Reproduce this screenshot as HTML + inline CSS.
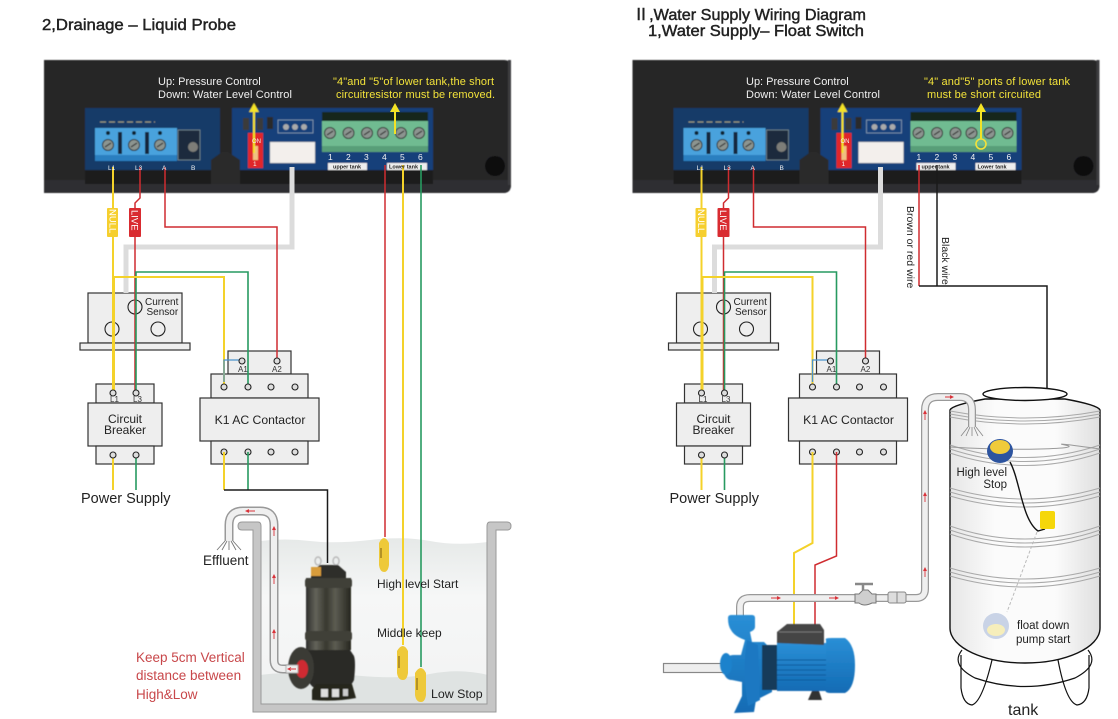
<!DOCTYPE html>
<html lang="en"><head><meta charset="utf-8"><title>Wiring Diagrams</title>
<style>
html,body{margin:0;padding:0;background:#fff;width:1118px;height:719px;overflow:hidden}
svg{display:block}
text{font-family:"Liberation Sans","DejaVu Sans",sans-serif;fill:#222}
.title{font-size:16px;stroke:#222;stroke-width:.45px}
.w{fill:#f1f1f1;font-size:11px}
.y{fill:#f2e23a;font-size:11px}
.s{font-size:8px;fill:#333}
.pn{font-size:8.5px;fill:#f2f2f2}
.tl{font-size:5.5px;fill:#222;font-weight:bold}
.wl{font-size:6.5px;fill:#f2f2f2}
.t{font-size:12px}
.b{font-size:12.2px}
.rd{font-size:13.5px;fill:#c8474a}
.box{fill:#eee;stroke:#333;stroke-width:1.2}
.term{fill:#ddd;stroke:#222;stroke-width:1.1}
.ye{stroke:#f4d22a;fill:none;stroke-width:2}
.re{stroke:#cf2c30;fill:none;stroke-width:1.5}
.gr{stroke:#279a60;fill:none;stroke-width:1.6}
.bk{stroke:#1a1a1a;fill:none;stroke-width:1.5}
.ring{stroke:#a9a9a9;fill:none;stroke-width:1}
.ar{stroke:#d9333a;fill:#d9333a;stroke-width:.9}
</style></head><body>
<svg xmlns="http://www.w3.org/2000/svg" width="1118" height="719" viewBox="0 0 1118 719">
<defs>
<filter id="soft" x="-5%" y="-5%" width="110%" height="110%"><feGaussianBlur stdDeviation=".45"/></filter>
<linearGradient id="tankg" x1="0" x2="1" y1="0" y2="0"><stop offset="0" stop-color="#e6e6e6"/><stop offset=".3" stop-color="#fbfbfb"/><stop offset=".7" stop-color="#fbfbfb"/><stop offset="1" stop-color="#dfdfdf"/></linearGradient>
<linearGradient id="water" x1="0" x2="0" y1="0" y2="1"><stop offset="0" stop-color="#e6e9e8"/><stop offset=".35" stop-color="#f6f7f7"/><stop offset=".8" stop-color="#f3f4f4"/><stop offset="1" stop-color="#f0f1f1"/></linearGradient>
<linearGradient id="pumpb" x1="0" x2="1" y1="0" y2="0"><stop offset="0" stop-color="#2f2f2c"/><stop offset=".22" stop-color="#63635a"/><stop offset=".45" stop-color="#38382f"/><stop offset=".65" stop-color="#5c5c52"/><stop offset="1" stop-color="#26261f"/></linearGradient>
<linearGradient id="blue" x1="0" x2="0" y1="0" y2="1"><stop offset="0" stop-color="#2a8fd6"/><stop offset="1" stop-color="#136bb4"/></linearGradient>
<g id="screw"><circle r="5.5" fill="#8c9490" stroke="#333" stroke-width="1"/><path d="M-3 2L3-2" stroke="#333" stroke-width="1.2"/></g>

<g id="panel">
<path d="M44 60H504Q511 60 511 67V185Q511 193 503 193H44Z" fill="#252528"/>
<path d="M44 180H511V185Q511 193 503 193H44Z" fill="#2e2e30"/>
<path d="M508 60h3v125h-3z" fill="#3d3d3f"/>
<rect x="85" y="170" width="126" height="14" fill="#1b1b1d"/><rect x="240" y="170" width="193" height="14" fill="#1b1b1d"/>
<rect x="85" y="108" width="135" height="62" fill="#123a68"/>
<rect x="232" y="108" width="201" height="62" fill="#12417a"/>
<path d="M211 184V160L222 152H228L240 160V184Z" fill="#2a2a2c"/>
<path d="M95 128H177V161H95Z" fill="#4aa2dd"/><rect x="95" y="155" width="82" height="6" fill="#2c7fc0"/>
<rect x="118" y="132" width="4" height="22" fill="#14263c"/><rect x="145" y="132" width="4" height="22" fill="#14263c"/>
<use href="#screw" x="108" y="145"/><use href="#screw" x="134" y="145"/><use href="#screw" x="160" y="145"/>
<circle cx="108" cy="133" r="2" fill="#123"/><circle cx="134" cy="133" r="2" fill="#123"/><circle cx="160" cy="133" r="2" fill="#123"/>
<rect x="178" y="130" width="22" height="30" fill="#1e2c3c" stroke="#9aa" stroke-width=".6"/><circle cx="193" cy="147" r="5" fill="#7d7d78"/>
<path d="M100 122H155" stroke="#9a9a80" stroke-width="1.2" stroke-dasharray="6 3"/>
<rect x="248" y="133" width="15" height="35" fill="#e0252b"/><rect x="253" y="146" width="5" height="14" fill="#f0c080"/>
<rect x="243" y="118" width="6" height="12" fill="#3a3a3a"/><rect x="257" y="118" width="6" height="12" fill="#3a3a3a"/><rect x="267" y="117" width="6" height="12" fill="#2a2a2a"/>
<rect x="278" y="120" width="35" height="13" fill="none" stroke="#9ab" stroke-width=".7"/>
<circle cx="286" cy="127" r="3" fill="#aaa"/><circle cx="295" cy="127" r="3" fill="#aaa"/><circle cx="304" cy="127" r="3" fill="#aaa"/>
<rect x="270" y="142" width="45" height="21" fill="#f3efec" stroke="#bbb" stroke-width=".5"/>
<rect x="322" y="112" width="106" height="10" fill="#14261c"/>
<rect x="322" y="121" width="106" height="31" fill="#6fbb91"/>
<rect x="322" y="146" width="106" height="6" fill="#589e78"/>
<use href="#screw" x="330" y="133"/><use href="#screw" x="348.500" y="133"/><use href="#screw" x="367" y="133"/><use href="#screw" x="383" y="133"/><use href="#screw" x="401" y="133"/><use href="#screw" x="419" y="133"/>
<rect x="328" y="163" width="39" height="7" fill="#eee"/><rect x="387" y="163" width="40" height="7" fill="#eee"/>
<circle cx="495" cy="166" r="10" fill="#0b0b0c"/>
<path d="M254 103L249 112H253V153H255V112H259Z" fill="#f4e225"/>
</g>

<g id="ctrl">
<rect class="box" x="88" y="293" width="94" height="50"/><rect class="box" x="80" y="343" width="110" height="7"/>
<rect class="box" x="96" y="384" width="58" height="19"/><rect class="box" x="88" y="403" width="74" height="43"/><rect class="box" x="96" y="446" width="58" height="18"/>
<rect class="box" x="228" y="351" width="63" height="23"/><rect class="box" x="211" y="374" width="97" height="24"/><rect class="box" x="200" y="398" width="119" height="43"/><rect class="box" x="211" y="441" width="97" height="23"/>
<path d="M292 167V247H126V293" fill="none" stroke="#dcdcdc" stroke-width="5"/>
<circle cx="135" cy="307" r="7" fill="none" stroke="#222" stroke-width="1.1"/><circle cx="112" cy="329" r="7" fill="none" stroke="#222" stroke-width="1.1"/><circle cx="158" cy="329" r="7" fill="none" stroke="#222" stroke-width="1.1"/>
<path class="ye" d="M113 167V393"/>
<path class="re" d="M140 167V198L135 203V393"/>
<path class="re" d="M165 167V227H277V359"/>
<path class="gr" d="M136 393V272H248V385"/>
<path class="ye" d="M114 393V277H224V385"/>
<path d="M224 382V360H242" fill="none" stroke="#4b93cc" stroke-width="1.3"/>
<rect x="107" y="208" width="11" height="29" rx="1" fill="#f6cf2e"/><rect x="129" y="208" width="12" height="29" rx="1" fill="#d92b30"/>
<path class="ye" d="M113 455V490"/><path class="gr" d="M136 455V490"/>
<g class="term"><circle cx="113" cy="393" r="3"/><circle cx="136" cy="393" r="3"/><circle cx="113" cy="455" r="3"/><circle cx="136" cy="455" r="3"/>
<circle cx="224" cy="387" r="3"/><circle cx="248" cy="387" r="3"/><circle cx="271" cy="387" r="3"/><circle cx="295" cy="387" r="3"/>
<circle cx="224" cy="452" r="3"/><circle cx="248" cy="452" r="3"/><circle cx="271" cy="452" r="3"/><circle cx="295" cy="452" r="3"/>
<circle cx="242" cy="361" r="3"/><circle cx="277" cy="361" r="3"/></g>
</g>
</defs>

<!-- titles -->
<text class="title" x="42" y="30" textLength="194" lengthAdjust="spacingAndGlyphs">2,Drainage – Liquid Probe</text>
<text class="title" x="633" y="20" textLength="233" lengthAdjust="spacingAndGlyphs" style="font-family:'Liberation Sans','Noto Sans CJK SC',sans-serif">Ⅱ,Water Supply Wiring Diagram</text>
<text class="title" x="648" y="36" textLength="216" lengthAdjust="spacingAndGlyphs">1,Water Supply– Float Switch</text>

<!-- LEFT water basin -->
<path d="M260 541Q285 538 310 541T370 540T430 541T488 542V705H260Z" fill="url(#water)"/>
<path d="M260 675Q300 670 350 675T430 674T488 675V705H260Z" fill="#dfe3e2"/>
<path d="M242 522H258Q261 522 261 526V704H487V526Q487 522 490 522H507Q511 522 511 526T507 530H496V712H253V530H242Q238 530 238 526T242 522Z" fill="#c6c6c6" stroke="#999" stroke-width="1"/>

<!-- LEFT pipe -->
<path d="M296 669H283Q274 669 274 660V525Q274 511 260 511H243Q229 511 229 525V541" fill="none" stroke="#999" stroke-width="9"/>
<path d="M296 669H283Q274 669 274 660V525Q274 511 260 511H243Q229 511 229 525V541" fill="none" stroke="#efefef" stroke-width="6"/>
<path d="M225 541L217 550M227 541L222 550M229 541V550M231 541L236 550M233 541L241 550" stroke="#777" stroke-width=".9"/>
<g class="ar"><path d="M274 536V528M272.500 530L274 527L275.500 530M274 584V576M272.500 578L274 575L275.500 578M274 639V631M272.500 633L274 630L275.500 633"/><path d="M255 511H247M249 509.500L246 511L249 512.500"/></g>

<!-- LEFT pump -->
<g filter="url(#soft)">
<path d="M318 565a3 4 0 1 1 .1 0M336 565a3 4 0 1 1 .1 0" fill="none" stroke="#bbb" stroke-width="1.4"/>
<path d="M311 572L320 565H338L346 572V578H311Z" fill="#2e2e2a"/>
<rect x="311" y="567" width="10" height="9" fill="#d89c3a"/>
<rect x="306" y="578" width="45" height="72" fill="url(#pumpb)"/>
<rect x="305" y="578" width="47" height="10" rx="3" fill="#3f3f39"/><rect x="305" y="631" width="47" height="10" rx="3" fill="#3f3f39"/>
<path d="M307 650H350L354 656Q356 662 354 680Q350 689 340 690H320Q308 688 306 672Z" fill="#2c2c28"/>
<path d="M312 690L316 684H352L356 698Q335 702 312 700Z" fill="#26261f"/>
<rect x="321" y="689" width="7" height="8" fill="#ddd"/><rect x="332" y="689" width="7" height="8" fill="#ddd"/><rect x="343" y="689" width="5" height="7" fill="#ccc"/>
<ellipse cx="301" cy="668" rx="13" ry="21" fill="#3a3a36"/>
<ellipse cx="302" cy="669" rx="6" ry="9" fill="#cf2a30"/>
<rect x="286" y="665" width="12" height="8" fill="#eee" stroke="#999" stroke-width=".8"/>
</g>
<path d="M296 669H289M291 667.500L288 669L291 670.500" stroke="#d9333a" stroke-width=".9" fill="none"/>

<!-- LEFT panel + wiring -->
<use href="#panel" filter="url(#soft)"/>
<use href="#ctrl"/>
<path class="ye" d="M224 452V490"/><path class="gr" d="M248 452V490"/>
<path class="bk" d="M224 490H327.500V563"/>
<path class="re" d="M385 165V537"/>
<path class="ye" d="M403 165V645"/>
<path class="gr" d="M421 165V667"/>
<path d="M379 543Q384 533 389 543V565Q388 572 384 572Q380 572 379 565Z" fill="#eec93a"/>
<path d="M397 651Q403 641 408 651V673Q407 680 403 680Q398 680 397 673Z" fill="#eec93a"/>
<path d="M415 673Q421 663 426 673V695Q425 702 421 702Q416 702 415 695Z" fill="#eec93a"/>
<path d="M381 548V558M399 656V668M417 678V690" stroke="#7a5c10" stroke-width="1"/>
<path d="M395 103L390 112H394V134H396V112H400Z" fill="#f4e225"/>

<!-- RIGHT panel + control -->
<use href="#panel" x="588.500" filter="url(#soft)"/>
<use href="#ctrl" x="588.500"/>
<circle cx="981" cy="144" r="5" fill="none" stroke="#f2e23a" stroke-width="1.6"/>
<path d="M981 103L976 112H980V139H982V112H986Z" fill="#f4e225"/>
<path class="ye" d="M812.500 452V543L794 553V626"/>
<path class="re" d="M836.500 452V556L815 565V626"/>
<path class="re" d="M919 165V286"/>
<path class="bk" d="M937 165V286"/>
<path class="bk" d="M919 286H1047V512"/>

<!-- RIGHT tank -->
<path d="M950 410Q952 405 985 399H1065Q1098 405 1100 410V628C1100 648 1065 663 1025 663C985 663 950 648 950 628Z" fill="url(#tankg)" stroke="#111" stroke-width="1.4"/>
<ellipse cx="1025" cy="394" rx="42" ry="6.500" fill="#fff" stroke="#111" stroke-width="1.4"/>
<g class="ring">
<path d="M950 411Q1025 425 1100 411M950 414Q1025 428 1100 414M950 417Q1025 431 1100 417"/>
<path d="M950 445Q1025 470 1100 445M950 449Q1025 474 1100 449M950 453Q1025 478 1100 453"/>
<path d="M950 488Q1025 510 1100 488M950 492Q1025 514 1100 492M950 496Q1025 518 1100 496"/>
<path d="M950 526Q1025 552 1100 526M950 530Q1025 556 1100 530M950 534Q1025 560 1100 534"/>
<path d="M950 568Q1025 590 1100 568M950 572Q1025 594 1100 572M950 576Q1025 598 1100 576"/>
<path d="M950 447Q1000 450 1040 449T1065 445T1100 449" stroke="#999"/>
</g>
<path d="M962 650Q950 665 975 678Q1025 695 1075 678Q1100 665 1088 650" fill="none" stroke="#111" stroke-width="1.2"/>
<path d="M961 655V688Q963 704 972 705Q982 702 992 660M1058 660Q1066 702 1077 705Q1087 704 1089 688V655" fill="none" stroke="#111" stroke-width="1.2"/>
<path d="M1010 462C1020 480 1022 520 1038 531L1045 529" fill="none" stroke="#111" stroke-width="1.4"/>
<ellipse cx="1000" cy="451" rx="13" ry="12" fill="#2d549f"/><ellipse cx="1000" cy="447" rx="10" ry="7" fill="#f0cb3a"/>
<path d="M1037 532L1007 612" stroke="#bbb" stroke-width="1" stroke-dasharray="3 2"/>
<rect x="1040" y="511" width="15" height="18" rx="2" fill="#f5d70a"/>
<circle cx="996" cy="626" r="13" fill="#c9d3e6"/><ellipse cx="996" cy="630" rx="9" ry="6" fill="#f6eebb"/>

<!-- RIGHT pipe -->
<path d="M740 617V607Q740 598 750 598H916Q925 598 925 589V410Q925 397 938 397H960Q972 397 972 410V427" fill="none" stroke="#999" stroke-width="8"/>
<path d="M740 617V607Q740 598 750 598H916Q925 598 925 589V410Q925 397 938 397H960Q972 397 972 410V427" fill="none" stroke="#efefef" stroke-width="5.500"/>
<path d="M968 427L961 436M970 427L966 436M972 427V436M974 427L978 436M976 427L983 436" stroke="#888" stroke-width=".8"/>
<path d="M855 594H859L863 590H868L872 594H876V603H872Q864 607 859 603H855Z" fill="#cfcfcf" stroke="#777" stroke-width="1"/>
<path d="M863 590V584M855 584H873" stroke="#888" stroke-width="2.500"/>
<rect x="888" y="592" width="18" height="11" rx="2" fill="#ddd" stroke="#888"/><path d="M897 592V603" stroke="#888"/>
<g class="ar"><path d="M771 598H779M777 596.500L780 598L777 599.500M829 598H837M835 596.500L838 598L835 599.500M684 667H693M691 665.500L694 667L691 668.500"/><path d="M925 502V494M923.500 496L925 493L926.500 496M925 577V569M923.500 571L925 568L926.500 571M925 420V412M923.500 414L925 411L926.500 414"/><path d="M945 397H952M950 395.500L953 397L950 398.500"/></g>

<!-- RIGHT pump -->
<rect x="663.500" y="663.500" width="62" height="9" fill="#eee" stroke="#888" stroke-width="1.2"/>
<g filter="url(#soft)">
<path d="M728 618Q728 615 731 615H752Q755 615 755 618V627Q755 630 750 632L752 642H764L772 650V692L756 700L754 712L734 713L742 696V682L732 680Q724 680 723 668Q723 656 733 655H741L745 640Q734 636 731 630Q728 626 728 618Z" fill="url(#blue)"/>
<ellipse cx="726" cy="664" rx="6" ry="11" fill="#1f82cc"/>
<path d="M747 640L758 645L760 700L748 706Q742 670 747 640Z" fill="#1c78c2"/>
<rect x="762" y="645" width="18" height="45" fill="#173a5a"/>
<path d="M777 643H826V691H777Z" fill="url(#blue)"/>
<path d="M777 660H826M777 665H826M777 670H826M777 675H826M777 680H826" stroke="#0f5a9c" stroke-width="1"/>
<path d="M777 643V632L787 624H820L824 630V645Z" fill="#454545"/>
<path d="M779 632H822" stroke="#777"/>
<path d="M826 640Q824 638 832 638H845Q855 645 855 665Q855 688 845 693H832Q824 693 826 690Z" fill="url(#blue)"/>
<path d="M812 691H819L822 700H808Z" fill="#333"/>
</g>

<!-- Text: left -->
<text class="w" x="158" y="85">Up: Pressure Control</text>
<text class="w" x="158" y="98" textLength="134" lengthAdjust="spacing">Down: Water Level Control</text>
<text class="y" x="333" y="85" textLength="161" lengthAdjust="spacing">"4"and "5"of lower tank,the short</text>
<text class="y" x="336" y="98" textLength="159" lengthAdjust="spacing">circuitresistor must be removed.</text>
<g><text class="wl" x="108" y="170">L1</text><text class="wl" x="135" y="170">L3</text><text class="wl" x="162" y="170">A</text><text class="wl" x="191" y="170">B</text><text class="wl" x="252" y="143" style="font-size:6px">ON</text><text class="wl" x="253" y="166">1</text></g>
<g><text class="pn" x="328" y="160">1</text><text class="pn" x="346" y="160">2</text><text class="pn" x="364" y="160">3</text><text class="pn" x="382" y="160">4</text><text class="pn" x="400" y="160">5</text><text class="pn" x="418" y="160">6</text></g>
<text class="tl" x="333" y="168.500">upper tank</text><text class="tl" x="389" y="168.500">Lower tank</text>
<text transform="translate(109.500,209) rotate(90)" style="font-size:9.500px;fill:#fff">NULL</text>
<text transform="translate(131.500,210) rotate(90)" style="font-size:9.500px;fill:#fff">LIVE</text>
<text x="145" y="305" style="font-size:10px">Current</text><text x="146.500" y="315" style="font-size:10px">Sensor</text>
<text class="s" x="110" y="402">L1</text><text class="s" x="133" y="402">L3</text>
<text class="s" x="238" y="372">A1</text><text class="s" x="272" y="372">A2</text>
<text class="t" text-anchor="middle" x="125" y="423">Circuit</text><text class="t" text-anchor="middle" x="125" y="434">Breaker</text>
<text class="b" text-anchor="middle" x="260" y="424">K1 AC Contactor</text>
<text x="81" y="503" style="font-size:14.500px">Power Supply</text>
<text x="203" y="565" style="font-size:13.500px">Effluent</text>
<text class="t" x="377" y="588">High level Start</text>
<text class="t" x="377" y="637">Middle keep</text>
<text x="431" y="698" style="font-size:12.400px">Low Stop</text>
<text class="rd" x="136" y="662">Keep 5cm Vertical</text><text class="rd" x="136" y="680">distance between</text><text class="rd" x="136" y="699">High&amp;Low</text>

<!-- Text: right -->
<text class="w" x="746" y="85">Up: Pressure Control</text>
<text class="w" x="746" y="98" textLength="134" lengthAdjust="spacing">Down: Water Level Control</text>
<text class="y" x="924" y="85" textLength="146" lengthAdjust="spacing">"4" and"5" ports of lower tank</text>
<text class="y" x="927" y="98" textLength="114" lengthAdjust="spacing">must be short circuited</text>
<g><text class="wl" x="696.500" y="170">L1</text><text class="wl" x="723.500" y="170">L3</text><text class="wl" x="750.500" y="170">A</text><text class="wl" x="779.500" y="170">B</text><text class="wl" x="840.500" y="143" style="font-size:6px">ON</text><text class="wl" x="841.500" y="166">1</text></g>
<g><text class="pn" x="916.500" y="160">1</text><text class="pn" x="934.500" y="160">2</text><text class="pn" x="952.500" y="160">3</text><text class="pn" x="970.500" y="160">4</text><text class="pn" x="988.500" y="160">5</text><text class="pn" x="1006.500" y="160">6</text></g>
<text class="tl" x="921.500" y="168.500">upper tank</text><text class="tl" x="977.500" y="168.500">Lower tank</text>
<text transform="translate(698,209) rotate(90)" style="font-size:9.500px;fill:#fff">NULL</text>
<text transform="translate(720,210) rotate(90)" style="font-size:9.500px;fill:#fff">LIVE</text>
<text x="733.500" y="305" style="font-size:10px">Current</text><text x="735" y="315" style="font-size:10px">Sensor</text>
<text class="s" x="698.500" y="402">L1</text><text class="s" x="721.500" y="402">L3</text>
<text class="s" x="826.500" y="372">A1</text><text class="s" x="860.500" y="372">A2</text>
<text class="t" text-anchor="middle" x="713.500" y="423">Circuit</text><text class="t" text-anchor="middle" x="713.500" y="434">Breaker</text>
<text class="b" text-anchor="middle" x="848.500" y="424">K1 AC Contactor</text>
<text x="669.500" y="503" style="font-size:14.500px">Power Supply</text>
<text transform="translate(907,206) rotate(90)" style="font-size:10.500px">Brown or red wire</text>
<text transform="translate(942,237) rotate(90)" style="font-size:10.500px">Black wire</text>
<text text-anchor="end" x="1007" y="476" style="font-size:11.500px">High level</text><text text-anchor="end" x="1007" y="488" style="font-size:11.500px">Stop</text>
<text x="1017" y="629" style="font-size:11.500px">float down</text><text x="1016" y="643" style="font-size:11.500px">pump start</text>
<text x="1008" y="715" style="font-size:16px">tank</text>
</svg>
</body></html>
